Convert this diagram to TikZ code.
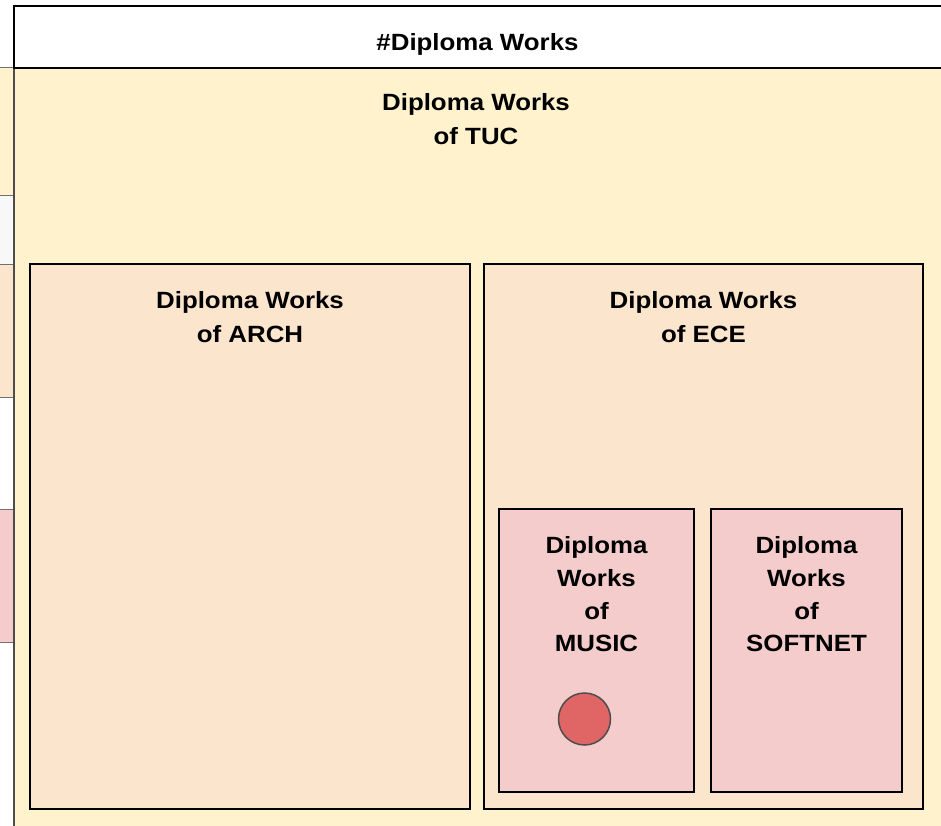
\documentclass[tikz,border=0pt]{standalone}
\usepackage{fontspec}
\setmainfont{Liberation Sans}[FakeStretch=1.1]
\definecolor{poolyellow}{HTML}{FFF2CC}
\definecolor{lanepeach}{HTML}{FCE5CD}
\definecolor{lanepink}{HTML}{F4CCCC}
\definecolor{lanegrey}{HTML}{F8F8F8}
\definecolor{dotred}{HTML}{E06666}
\definecolor{edgegrey}{HTML}{4D4D4D}
\definecolor{sepgrey}{HTML}{707070}
\begin{document}
\begin{tikzpicture}[x=1pt,y=-1pt,
  box/.style={rectangle, draw=black, line width=2pt, inner sep=0pt, outer sep=0pt, anchor=north west},
  lbl/.style={anchor=base, inner sep=0pt, font=\fontsize{23.5}{28}\selectfont\bfseries},
  sep/.style={draw=sepgrey, line width=1pt},
  dot/.style={circle, draw=edgegrey, line width=1.5pt, fill=dotred, minimum size=52pt, inner sep=0pt}
]
\useasboundingbox (0,0) rectangle (941,826);
\clip (0,0) rectangle (941,826);
\fill[white] (0,0) rectangle (941,826);
% left lane strip
\fill[poolyellow] (0,68) rectangle (14,196);
\fill[lanegrey] (0,196) rectangle (14,264);
\fill[lanepeach] (0,264) rectangle (14,397);
\fill[white] (0,397) rectangle (14,509);
\fill[lanepink] (0,509) rectangle (14,642);
\foreach \yy in {68,196,264,397,509,642} \draw[sep] (0,\yy) -- (14,\yy);
% pool
\node[box, draw=edgegrey, fill=poolyellow, minimum width=928.5pt, minimum height=824pt] (pool) at (14,6) {};
\node[box, fill=white, minimum width=928.5pt, minimum height=62pt] (header) at (14,6) {};
\draw[line width=2.5pt] (header.south west) -- (header.south east);
\node[lbl] (title) at (477.5,51) {\#Diploma Works};
\node[lbl] (tuc1) at (476,111) {Diploma Works};
\node[lbl] (tuc2) at (476,145) {of TUC};
% lanes
\node[box, fill=lanepeach, minimum width=440pt, minimum height=545pt] (arch) at (30,264) {};
\node[lbl] (arch1) at (250,308) {Diploma Works};
\node[lbl] (arch2) at (250,342) {of ARCH};
\node[box, fill=lanepeach, minimum width=439pt, minimum height=545pt] (ece) at (484,264) {};
\node[lbl] (ece1) at (703.5,308) {Diploma Works};
\node[lbl] (ece2) at (703.5,342) {of ECE};
\node[box, fill=lanepink, minimum width=195pt, minimum height=283pt] (music) at (499,509) {};
\node[lbl] (music1) at (596.5,553.5) {Diploma};
\node[lbl] (music2) at (596.5,586) {Works};
\node[lbl] (music3) at (596.5,619) {of};
\node[lbl] (music4) at (596.5,651) {MUSIC};
\node[box, fill=lanepink, minimum width=191pt, minimum height=283pt] (softnet) at (711,509) {};
\node[lbl] (soft1) at (806.5,553.5) {Diploma};
\node[lbl] (soft2) at (806.5,586) {Works};
\node[lbl] (soft3) at (806.5,619) {of};
\node[lbl] (soft4) at (806.5,651) {SOFTNET};
\node[dot] (event) at (584.5,719) {};
\end{tikzpicture}
\end{document}
